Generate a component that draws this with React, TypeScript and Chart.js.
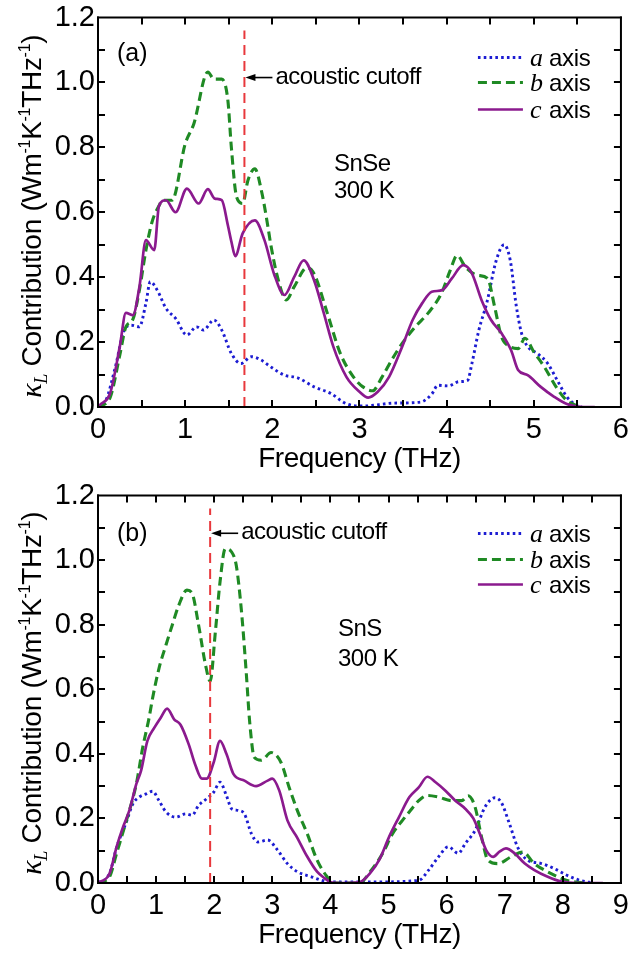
import React, { useEffect, useRef } from 'react';
import { Chart, registerables } from 'chart.js';

Chart.register(...registerables);

const SANS = '"Liberation Sans", Arial, Helvetica, sans-serif';
const SERIF = '"Liberation Serif", "Times New Roman", serif';

const BLUE = '#1c1cd2';
const GREEN = '#1f8a24';
const PURPLE = '#8b1a8e';
const RED = '#e8383c';

const SNSE_A_X = [0, 0.09, 0.2, 0.3, 0.38, 0.475, 0.55, 0.6, 0.68, 0.78, 0.89, 1.02, 1.13, 1.21, 1.33, 1.42, 1.53, 1.64, 1.76, 1.87, 1.98, 2.14, 2.29, 2.48, 2.67, 2.85, 3.04, 3.4, 3.7, 3.83, 3.9, 4.02, 4.14, 4.24, 4.29, 4.37, 4.46, 4.57, 4.66, 4.73, 4.8, 4.86, 4.93, 5.04, 5.16, 5.27, 5.38, 5.49, 5.55];
const SNSE_A_Y = [0, 0.02, 0.124, 0.237, 0.252, 0.247, 0.32, 0.386, 0.36, 0.304, 0.273, 0.222, 0.247, 0.237, 0.268, 0.237, 0.165, 0.134, 0.155, 0.145, 0.124, 0.098, 0.09, 0.062, 0.042, 0.01, 0.003, 0.012, 0.015, 0.04, 0.067, 0.065, 0.078, 0.082, 0.134, 0.237, 0.32, 0.452, 0.5, 0.452, 0.31, 0.227, 0.186, 0.165, 0.134, 0.082, 0.031, 0.005, 0];
const SNSE_B_X = [0, 0.14, 0.25, 0.32, 0.4, 0.475, 0.55, 0.62, 0.7, 0.74, 0.85, 1.0, 1.1, 1.26, 1.33, 1.42, 1.49, 1.53, 1.59, 1.66, 1.72, 1.8, 1.88, 1.95, 1.98, 2.06, 2.16, 2.25, 2.4, 2.48, 2.63, 2.78, 2.93, 3.04, 3.15, 3.26, 3.37, 3.49, 3.64, 3.79, 3.94, 4.04, 4.12, 4.22, 4.35, 4.47, 4.55, 4.63, 4.73, 4.82, 4.9, 5.0, 5.12, 5.27, 5.38, 5.49, 5.55];
const SNSE_B_Y = [0, 0.03, 0.16, 0.247, 0.27, 0.36, 0.483, 0.57, 0.62, 0.637, 0.637, 0.81, 0.873, 1.032, 1.01, 1.01, 0.945, 0.8, 0.647, 0.627, 0.698, 0.734, 0.66, 0.555, 0.504, 0.4, 0.33, 0.37, 0.43, 0.41, 0.29, 0.165, 0.093, 0.062, 0.05, 0.093, 0.145, 0.196, 0.247, 0.29, 0.35, 0.42, 0.467, 0.43, 0.406, 0.396, 0.31, 0.216, 0.186, 0.18, 0.212, 0.17, 0.124, 0.056, 0.02, 0.005, 0];
const SNSE_C_X = [0, 0.02, 0.14, 0.25, 0.32, 0.4, 0.475, 0.55, 0.645, 0.7, 0.78, 0.89, 1.02, 1.155, 1.26, 1.34, 1.42, 1.49, 1.53, 1.575, 1.66, 1.8, 1.91, 2.02, 2.14, 2.25, 2.36, 2.48, 2.59, 2.7, 2.85, 3.0, 3.1, 3.21, 3.34, 3.49, 3.61, 3.72, 3.83, 3.95, 4.06, 4.19, 4.29, 4.4, 4.51, 4.63, 4.74, 4.82, 4.93, 5.08, 5.23, 5.38, 5.57, 5.7];
const SNSE_C_Y = [0, 0.006, 0.043, 0.186, 0.29, 0.283, 0.37, 0.514, 0.483, 0.62, 0.637, 0.6, 0.673, 0.627, 0.671, 0.642, 0.637, 0.56, 0.51, 0.465, 0.535, 0.575, 0.514, 0.41, 0.345, 0.4, 0.452, 0.39, 0.29, 0.186, 0.093, 0.047, 0.029, 0.047, 0.093, 0.186, 0.268, 0.32, 0.355, 0.36, 0.396, 0.437, 0.412, 0.33, 0.268, 0.227, 0.175, 0.114, 0.098, 0.062, 0.032, 0.009, 0, 0];

const SNS_A_X = [0, 0.2, 0.32, 0.49, 0.6, 0.71, 0.83, 0.94, 1.05, 1.17, 1.34, 1.51, 1.62, 1.73, 1.87, 1.99, 2.1, 2.21, 2.3, 2.41, 2.52, 2.64, 2.75, 2.92, 3.09, 3.26, 3.43, 3.66, 4.0, 4.58, 5.52, 5.69, 5.86, 6.03, 6.2, 6.32, 6.49, 6.66, 6.83, 6.94, 7.08, 7.22, 7.39, 7.62, 7.85, 8.07, 8.3, 8.52];
const SNS_A_Y = [0, 0.03, 0.11, 0.19, 0.245, 0.266, 0.276, 0.284, 0.255, 0.22, 0.204, 0.214, 0.21, 0.24, 0.261, 0.281, 0.312, 0.271, 0.23, 0.225, 0.214, 0.153, 0.127, 0.133, 0.102, 0.06, 0.035, 0.02, 0.003, 0.003, 0.008, 0.04, 0.081, 0.112, 0.092, 0.122, 0.163, 0.235, 0.264, 0.25, 0.184, 0.112, 0.071, 0.061, 0.045, 0.024, 0.008, 0];
const SNS_B_X = [0, 0.2, 0.32, 0.49, 0.66, 0.77, 0.88, 0.94, 1.05, 1.17, 1.28, 1.39, 1.53, 1.62, 1.73, 1.85, 1.93, 2.02, 2.1, 2.19, 2.3, 2.38, 2.47, 2.55, 2.61, 2.69, 2.81, 2.98, 3.15, 3.29, 3.43, 3.6, 3.77, 3.94, 4.05, 4.5, 4.68, 4.9, 5.07, 5.24, 5.38, 5.52, 5.67, 5.86, 6.09, 6.26, 6.37, 6.49, 6.6, 6.71, 6.88, 7.11, 7.31, 7.51, 7.79, 8.07, 8.35];
const SNS_B_Y = [0, 0.02, 0.092, 0.194, 0.307, 0.42, 0.512, 0.573, 0.665, 0.737, 0.8, 0.86, 0.907, 0.897, 0.8, 0.676, 0.625, 0.778, 0.932, 1.035, 1.025, 0.983, 0.84, 0.655, 0.5, 0.389, 0.38, 0.404, 0.373, 0.296, 0.225, 0.153, 0.071, 0.02, 0, 0, 0.034, 0.092, 0.153, 0.194, 0.225, 0.255, 0.271, 0.266, 0.255, 0.255, 0.27, 0.235, 0.143, 0.071, 0.06, 0.081, 0.096, 0.06, 0.03, 0.008, 0];
const SNS_C_X = [0, 0.2, 0.32, 0.43, 0.54, 0.66, 0.74, 0.85, 0.97, 1.08, 1.19, 1.31, 1.42, 1.56, 1.68, 1.79, 1.87, 1.99, 2.1, 2.21, 2.33, 2.52, 2.72, 2.92, 3.0, 3.12, 3.26, 3.43, 3.6, 3.77, 3.9, 4.0, 4.17, 4.5, 4.68, 4.85, 5.01, 5.18, 5.36, 5.52, 5.67, 5.81, 5.98, 6.15, 6.32, 6.46, 6.57, 6.68, 6.8, 6.91, 7.02, 7.17, 7.34, 7.51, 7.73, 7.96, 8.25, 8.69];
const SNS_C_Y = [0, 0.03, 0.112, 0.173, 0.225, 0.307, 0.347, 0.44, 0.481, 0.512, 0.54, 0.507, 0.49, 0.43, 0.363, 0.323, 0.323, 0.373, 0.44, 0.4, 0.338, 0.317, 0.3, 0.317, 0.323, 0.286, 0.194, 0.14, 0.082, 0.035, 0.015, 0.003, 0, 0.003, 0.03, 0.075, 0.143, 0.204, 0.266, 0.296, 0.329, 0.312, 0.286, 0.255, 0.23, 0.2, 0.153, 0.102, 0.081, 0.097, 0.107, 0.092, 0.061, 0.04, 0.02, 0.005, 0, 0];

const SNSE_CUTOFF = [1.68, 1.16, 1.015];
const SNS_CUTOFF = [1.93, 1.16, 1.083];

const LEGEND_LETTERS = ['a', 'b', 'c'];
const Y_TICK_STEP = 0.2;
const Y_MAX = 1.2;
const X_MINOR_STEP = 0.5;
const Y_MINOR_STEP = 0.1;

type PanelCfg = {
  tag: string; material: string; temp: string; xMax: number; height: number;
  padTop: number; xAxisH: number; series: { x: number[]; y: number[] }[];
  cutoff: number[]; matPos: [number, number, number]; tagDy: number; legendDy: number[];
};

const zip = (xs: number[], ys: number[]) => {
  const n = Math.min(xs.length, ys.length);
  const out: { x: number; y: number }[] = [];
  for (let i = 0; i < n; i++) out.push({ x: xs[i], y: ys[i] });
  return out;
};

const STYLES = [
  { color: BLUE, dash: [2.6, 3.2], width: 2.9 },
  { color: GREEN, dash: [9, 5], width: 3.1 },
  { color: PURPLE, dash: [] as number[], width: 2.7 },
];

function makeDecor(cfg: PanelCfg) {
  return {
    id: 'decor' + cfg.tag,
    afterDraw(chart: any) {
      const ctx: CanvasRenderingContext2D = chart.ctx;
      const a = chart.chartArea;
      const xs = chart.scales.x;
      const ys = chart.scales.y;
      ctx.save();
      ctx.setLineDash([]);
      ctx.globalAlpha = 1;
      ctx.globalCompositeOperation = 'source-over';

      // frame + inward ticks on all four sides
      ctx.fillStyle = '#000';
      const TL = 7;
      const W = 2;
      const left = a.left, right = a.right, top = a.top, bottom = a.bottom;
      const nX = Math.round(cfg.xMax / X_MINOR_STEP);
      for (let i = 1; i < nX; i++) {
        const px = Math.round(xs.getPixelForValue(i * X_MINOR_STEP));
        ctx.fillRect(px - 1, bottom - TL, W, TL);
        ctx.fillRect(px - 1, top, W, TL);
      }
      const nY = Math.round(Y_MAX / Y_MINOR_STEP);
      for (let j = 1; j < nY; j++) {
        const py = Math.round(ys.getPixelForValue(j * Y_MINOR_STEP));
        ctx.fillRect(left, py - 1, TL, W);
        ctx.fillRect(right - TL, py - 1, TL, W);
      }
      ctx.fillRect(left - 1, top - 1, right - left + 2, 2);
      ctx.fillRect(left - 1, bottom - 1, right - left + 2, 2);
      ctx.fillRect(left - 1, top - 1, 2, bottom - top + 2);
      ctx.fillRect(right - 1, top - 1, 2, bottom - top + 2);

      // x title
      ctx.font = `28px ${SANS}`;
      ctx.textAlign = 'center';
      ctx.textBaseline = 'alphabetic';
      (ctx as any).letterSpacing = '-0.5px';
      ctx.fillText('Frequency (THz)', (left + right) / 2, bottom + 60);

      // y title with sub/superscripts
      const segs = [
        { t: 'κ', f: `italic 30px ${SERIF}`, dy: 0 },
        { t: 'L', f: `italic 18px ${SERIF}`, dy: 6 },
        { t: ' Contribution (Wm', f: `28px ${SANS}`, dy: 0 },
        { t: '-1', f: `16px ${SANS}`, dy: -11 },
        { t: 'K', f: `28px ${SANS}`, dy: 0 },
        { t: '-1', f: `16px ${SANS}`, dy: -11 },
        { t: 'THz', f: `28px ${SANS}`, dy: 0 },
        { t: '-1', f: `16px ${SANS}`, dy: -11 },
        { t: ')', f: `28px ${SANS}`, dy: 0 },
      ];
      ctx.textAlign = 'left';
      (ctx as any).letterSpacing = '-0.3px';
      let total = 0;
      const ws = segs.map((s) => {
        ctx.font = s.f;
        const w = ctx.measureText(s.t).width;
        total += w;
        return w;
      });
      ctx.save();
      ctx.translate(41, (top + bottom) / 2 + 4);
      ctx.rotate(-Math.PI / 2);
      let cx = -total / 2;
      segs.forEach((s, i) => {
        ctx.font = s.f;
        ctx.fillText(s.t, cx, s.dy);
        cx += ws[i];
      });
      ctx.restore();

      // panel tag
      (ctx as any).letterSpacing = '0px';
      ctx.font = `25px ${SANS}`;
      ctx.fillText(`(${cfg.tag})`, left + 19, top + cfg.tagDy);

      // cutoff arrow & text
      const cxp = xs.getPixelForValue(cfg.cutoff[0]);
      const ay = ys.getPixelForValue(cfg.cutoff[2]);
      ctx.strokeStyle = '#000';
      ctx.lineWidth = 1.6;
      ctx.beginPath();
      ctx.moveTo(cxp + 8, ay);
      ctx.lineTo(cxp + 28, ay);
      ctx.stroke();
      ctx.beginPath();
      ctx.moveTo(cxp + 1, ay);
      ctx.lineTo(cxp + 11, ay - 3.5);
      ctx.lineTo(cxp + 11, ay + 3.5);
      ctx.closePath();
      ctx.fill();
      ctx.font = `24px ${SANS}`;
      (ctx as any).letterSpacing = '-0.5px';
      ctx.fillText('acoustic cutoff', cxp + 31, ay + 6);

      // material label
      ctx.font = `24px ${SANS}`;
      ctx.fillText(cfg.material, left + cfg.matPos[0], top + cfg.matPos[1]);
      ctx.fillText(cfg.temp, left + cfg.matPos[0], top + cfg.matPos[2]);

      // legend
      const lx0 = right - 143;
      const lx1 = right - 98;
      LEGEND_LETTERS.forEach((letter, i) => {
        const st = STYLES[i];
        const y = top + cfg.legendDy[i];
        ctx.strokeStyle = st.color;
        ctx.lineWidth = st.width;
        ctx.setLineDash(st.dash);
        ctx.beginPath();
        ctx.moveTo(lx0, y);
        ctx.lineTo(lx1, y);
        ctx.stroke();
        ctx.setLineDash([]);
        ctx.fillStyle = '#000';
        (ctx as any).letterSpacing = '0px';
        ctx.font = `italic 26px ${SERIF}`;
        ctx.fillText(letter, lx1 + 7, y + 8);
        ctx.font = `24px ${SANS}`;
        (ctx as any).letterSpacing = '-0.3px';
        ctx.fillText('axis', lx1 + 26, y + 8);
      });
      ctx.restore();
    },
  };
}

function buildChart(canvas: HTMLCanvasElement, cfg: PanelCfg) {
  const datasets: any[] = cfg.series.map((s, i) => ({
    data: zip(s.x, s.y),
    borderColor: STYLES[i].color,
    borderWidth: STYLES[i].width,
    borderDash: STYLES[i].dash,
    pointRadius: 0,
    fill: false,
    tension: 0.4,
    cubicInterpolationMode: 'monotone',
    order: 3 - i,
  }));
  datasets.push({
    data: [
      { x: cfg.cutoff[0], y: 0 },
      { x: cfg.cutoff[0], y: cfg.cutoff[1] },
    ],
    borderColor: RED,
    borderWidth: 2,
    borderDash: [10, 6],
    pointRadius: 0,
    fill: false,
    tension: 0,
    order: 0,
  });
  return new Chart(canvas, {
    type: 'line',
    data: { datasets },
    options: {
      responsive: false,
      animation: false,
      events: [],
      layout: { padding: { top: cfg.padTop, right: 9, left: 0, bottom: 0 } },
      plugins: {
        legend: { display: false },
        tooltip: { enabled: false },
        title: { display: false },
      },
      scales: {
        x: {
          type: 'linear',
          min: 0,
          max: cfg.xMax,
          ticks: {
            stepSize: 1,
            autoSkip: false,
            maxRotation: 0,
            color: '#000',
            padding: 8,
            font: { family: SANS, size: 29, lineHeight: 1 },
            callback: (v: any) => String(v),
          },
          grid: { display: false, drawTicks: false },
          border: { display: false },
          afterFit: (s: any) => {
            s.height = cfg.xAxisH;
          },
        },
        y: {
          type: 'linear',
          min: 0,
          max: Y_MAX,
          ticks: {
            stepSize: Y_TICK_STEP,
            color: '#000',
            padding: 3,
            font: { family: SANS, size: 29, lineHeight: 1 },
            callback: (v: any) => Number(v).toFixed(1),
          },
          grid: { display: false, drawTicks: false },
          border: { display: false },
          afterFit: (s: any) => {
            s.width = 98;
          },
        },
      },
    },
    plugins: [makeDecor(cfg)],
  } as any);
}

const PANEL_A: PanelCfg = {
  tag: 'a', material: 'SnSe', temp: '300 K', xMax: 6, height: 478, padTop: 17, xAxisH: 71,
  series: [
    { x: SNSE_A_X, y: SNSE_A_Y },
    { x: SNSE_B_X, y: SNSE_B_Y },
    { x: SNSE_C_X, y: SNSE_C_Y },
  ],
  cutoff: SNSE_CUTOFF, matPos: [236, 153, 180], tagDy: 43, legendDy: [40, 65, 92],
};

const PANEL_B: PanelCfg = {
  tag: 'b', material: 'SnS', temp: '300 K', xMax: 9, height: 479, padTop: 15, xAxisH: 74,
  series: [
    { x: SNS_A_X, y: SNS_A_Y },
    { x: SNS_B_X, y: SNS_B_Y },
    { x: SNS_C_X, y: SNS_C_Y },
  ],
  cutoff: SNS_CUTOFF, matPos: [240, 140, 170], tagDy: 45, legendDy: [38, 64, 89],
};

function Panel({ cfg, top }: { cfg: PanelCfg; top: number }) {
  const ref = useRef<HTMLCanvasElement | null>(null);
  useEffect(() => {
    if (!ref.current) return;
    const ch = buildChart(ref.current, cfg);
    return () => ch.destroy();
  }, [cfg]);
  return (
    <canvas
      ref={ref}
      width={637}
      height={cfg.height}
      style={{ position: 'absolute', left: 0, top, width: 637, height: cfg.height, display: 'block' }}
    />
  );
}

export default function App() {
  return (
    <div style={{ position: 'absolute', left: 0, top: 0, width: 637, height: 957, background: '#fff' }}>
      <Panel cfg={PANEL_A} top={0} />
      <Panel cfg={PANEL_B} top={478} />
    </div>
  );
}
